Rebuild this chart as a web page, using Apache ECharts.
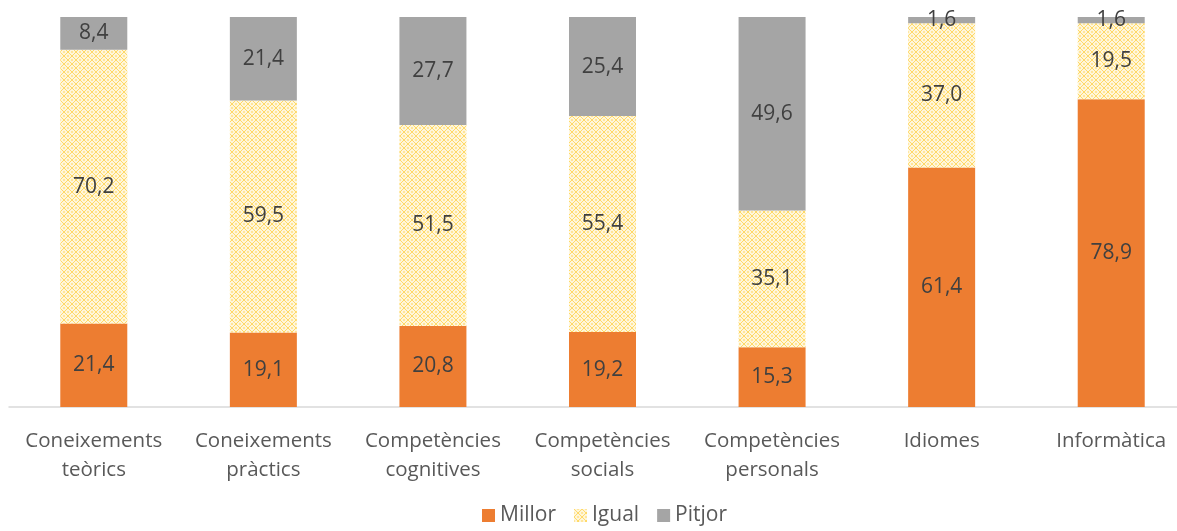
<!DOCTYPE html>
<html>
<head>
<meta charset="utf-8">
<script src="https://cdn.jsdelivr.net/npm/echarts@6/dist/echarts.min.js"></script>
<style>
html, body { margin: 0; padding: 0; background: #fff; }
#chart { width: 1177px; height: 531px; }
</style>
</head>
<body>
<div id="chart"></div>
<script>
var categories = ['Coneixements\nteòrics', 'Coneixements\npràctics', 'Competències\ncognitives', 'Competències\nsocials', 'Competències\npersonals', 'Idiomes', 'Informàtica'];
var millor = [21.4, 19.1, 20.8, 19.2, 15.3, 61.4, 78.9];
var igual = [70.2, 59.5, 51.5, 55.4, 35.1, 37.0, 19.5];
var pitjor = [8.4, 21.4, 27.7, 25.4, 49.6, 1.6, 1.6];

// trama groga per a "Igual"
function makePattern() {
    var c = document.createElement('canvas');
    c.width = 8;
    c.height = 8;
    var ctx = c.getContext('2d');
    ctx.fillStyle = '#FFF6DA';
    ctx.fillRect(0, 0, 8, 8);
    ctx.fillStyle = '#FFD966';
    // diagonals creuades
    for (var i = 0; i < 8; i++) {
        ctx.fillRect(i, i, 1, 1);
        ctx.fillRect(7 - i, i, 1, 1);
    }
    ctx.fillStyle = '#FFE599';
    ctx.fillRect(3, 0, 2, 1);
    ctx.fillRect(3, 7, 2, 1);
    ctx.fillRect(0, 3, 1, 2);
    ctx.fillRect(7, 3, 1, 2);
    return c;
}
var patt = { image: makePattern(), repeat: 'repeat' };

function fmt(p) {
    return p.value.toFixed(1).replace('.', ',');
}

var chart = echarts.init(document.getElementById('chart'));
var label = {
    show: true,
    position: 'inside',
    formatter: fmt,
    color: '#404040',
    fontSize: 21,
    fontFamily: 'Open Sans'
};

var option = {
    animation: false,
    grid: { left: 9, right: -19, top: 17, bottom: 124, outerBoundsMode: 'none', containLabel: false },
    legend: {
        bottom: 0,
        left: 477,
        itemWidth: 13,
        itemHeight: 13,
        itemGap: 18,
        icon: 'rect',
        textStyle: { color: '#595959', fontSize: 21, fontFamily: 'Open Sans' },
        data: ['Millor', 'Igual', 'Pitjor']
    },
    xAxis: {
        type: 'category',
        data: categories,
        axisLine: { lineStyle: { color: '#d9d9d9', width: 1.5 } },
        axisTick: { show: false },
        axisLabel: {
            color: '#595959',
            fontSize: 20.5,
            fontFamily: 'Open Sans',
            lineHeight: 29,
            margin: 20,
            interval: 0
        }
    },
    yAxis: {
        type: 'value',
        min: 0,
        max: 100,
        show: false
    },
    series: [
        {
            name: 'Millor', type: 'bar', stack: 'a', barWidth: 67,
            data: millor,
            itemStyle: { color: '#ED7D31' },
            label: label
        },
        {
            name: 'Igual', type: 'bar', stack: 'a', barWidth: 67,
            data: igual,
            itemStyle: { color: patt },
            label: label
        },
        {
            name: 'Pitjor', type: 'bar', stack: 'a', barWidth: 67,
            data: pitjor,
            itemStyle: { color: '#A5A5A5' },
            label: label
        }
    ]
};
chart.setOption(option);
</script>
</body>
</html>
